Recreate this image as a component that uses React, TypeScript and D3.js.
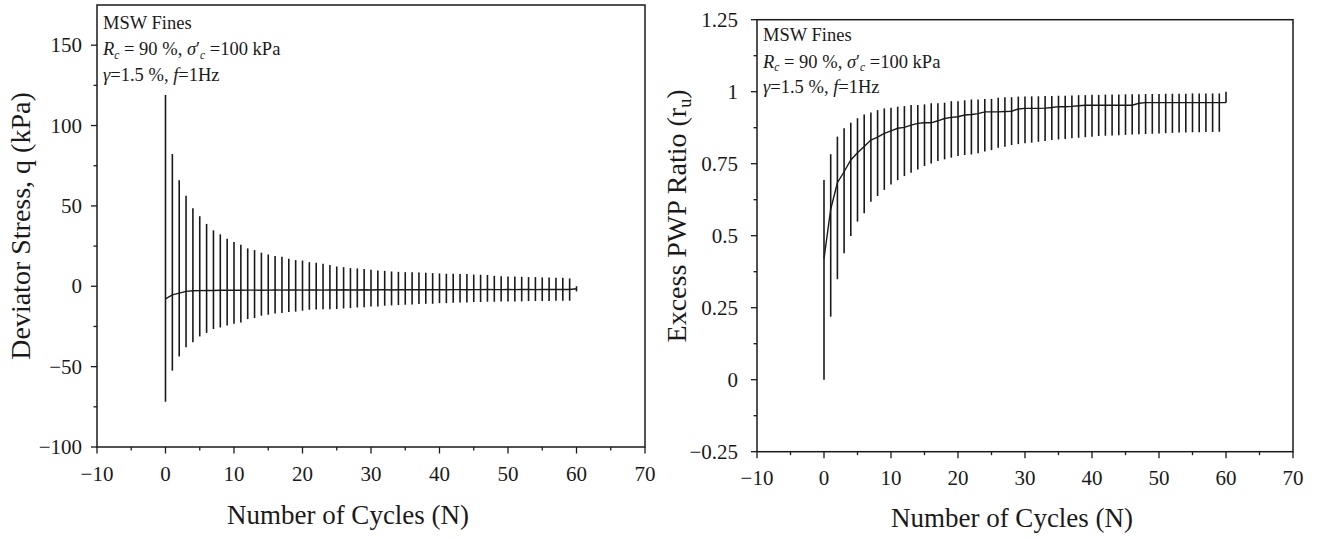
import React from "react";
import * as d3 from "d3";

// ---------- data ----------
const cycles = d3.range(0, 61); // N = 0..60

const qMax = [
  119, 82.3, 66, 56.3, 48.5, 43.6, 38.8, 34.8, 32.3, 29.6,
  27.5, 25.9, 23.6, 22.5, 20.9, 19.8, 18.8, 18.4, 17.1, 16.3,
  16.0, 15.0, 14.6, 14.0, 13.3, 12.3, 11.9, 11.3, 11.1, 10.7,
  10.3, 9.8, 9.6, 9.2, 9.0, 8.8, 8.8, 8.6, 8.4, 8.2,
  8.0, 7.8, 7.8, 7.6, 7.6, 7.3, 7.2, 7.0, 6.5, 6.3,
  6.1, 6.1, 5.9, 5.7, 5.7, 5.5, 5.5, 5.3, 5.3, 4.9,
  0,
];
const qMin = [
  -71.9, -52.5, -43.7, -38, -34.8, -31.2, -29, -26.6, -25.6, -24.4,
  -23.3, -22.5, -20.4, -19.8, -18.3, -17.7, -17, -16.6, -16, -15.8,
  -15.2, -14.6, -14.4, -14.3, -14.3, -14.2, -13.8, -13.6, -13.2, -13.0,
  -12.6, -12.6, -12.1, -11.9, -11.7, -11.5, -11.3, -11.1, -10.9, -10.9,
  -10.5, -10.5, -10.3, -10.1, -10.1, -9.8, -9.8, -9.6, -9.6, -9.4,
  -9.4, -9.4, -9.4, -9.2, -9.2, -9.2, -9.2, -9.0, -9.0, -9.0,
  -3.2,
];
const qMean = [
  -7.9, -5.3, -4.3, -3.2, -2.8, -2.7, -2.6, -2.6, -2.5, -2.5,
  -2.4, -2.5, -2.4, -2.4, -2.5, -2.4, -2.3, -2.4, -2.3, -2.3,
  -2.4, -2.3, -2.3, -2.4, -2.3, -2.3, -2.2, -2.3, -2.3, -2.2,
  -2.3, -2.2, -2.2, -2.3, -2.2, -2.2, -2.2, -2.1, -2.2, -2.2,
  -2.1, -2.2, -2.1, -2.1, -2.2, -2.1, -2.1, -2.0, -2.1, -2.1,
  -2.0, -2.1, -2.0, -2.0, -2.1, -2.0, -2.0, -2.0, -2.0, -2.0,
  -1.5,
];

const ruMax = [
  0.693, 0.783, 0.844, 0.873, 0.892, 0.908, 0.921, 0.928, 0.936, 0.942,
  0.944, 0.948, 0.95, 0.954, 0.954, 0.956, 0.96, 0.96, 0.962, 0.967,
  0.967, 0.97, 0.973, 0.973, 0.975, 0.975, 0.979, 0.981, 0.981, 0.983,
  0.983, 0.984, 0.984, 0.985, 0.985, 0.986, 0.986, 0.987, 0.988, 0.988,
  0.989, 0.989, 0.99, 0.99, 0.99, 0.991, 0.991, 0.991, 0.992, 0.992,
  0.992, 0.993, 0.993, 0.993, 0.993, 0.994, 0.994, 0.994, 0.994, 0.994,
  1.0,
];
const ruMin = [
  0.0, 0.219, 0.349, 0.439, 0.499, 0.549, 0.578, 0.618, 0.638, 0.659,
  0.678, 0.693, 0.707, 0.719, 0.73, 0.742, 0.751, 0.759, 0.765, 0.771,
  0.777, 0.78, 0.782, 0.786, 0.792, 0.797, 0.805, 0.809, 0.815, 0.818,
  0.821, 0.823, 0.826, 0.829, 0.832, 0.834, 0.836, 0.838, 0.84, 0.842,
  0.844, 0.846, 0.847, 0.848, 0.849, 0.85, 0.851, 0.852, 0.853, 0.854,
  0.855, 0.856, 0.857, 0.858, 0.858, 0.859, 0.859, 0.86, 0.86, 0.861,
  0.962,
];
const ruMean = [
  0.42, 0.592, 0.684, 0.722, 0.763, 0.788, 0.81, 0.832, 0.842, 0.855,
  0.864, 0.873, 0.876, 0.884, 0.89, 0.892, 0.892, 0.899, 0.907, 0.911,
  0.913, 0.919, 0.921, 0.924, 0.93, 0.93, 0.93, 0.931, 0.932, 0.94,
  0.942, 0.942, 0.942, 0.943, 0.945, 0.948, 0.948, 0.949, 0.951, 0.953,
  0.953, 0.953, 0.953, 0.953, 0.953, 0.953, 0.953, 0.96, 0.962, 0.962,
  0.962, 0.962, 0.962, 0.962, 0.962, 0.962, 0.962, 0.962, 0.962, 0.962,
  0.962,
];

const xMajorTicks = [-10, 0, 10, 20, 30, 40, 50, 60, 70];
const xMinorTicks = [-5, 5, 15, 25, 35, 45, 55, 65];
const xTickLabels = ["\u221210", "0", "10", "20", "30", "40", "50", "60", "70"];
const qMajorTicks = [-100, -50, 0, 50, 100, 150];
const qMinorTicks = [-75, -25, 25, 75, 125];
const qTickLabels = ["\u2212100", "\u221250", "0", "50", "100", "150"];
const ruMajorTicks = [-0.25, 0, 0.25, 0.5, 0.75, 1, 1.25];
const ruMinorTicks = [-0.125, 0.125, 0.375, 0.625, 0.875, 1.125];
const ruTickLabels = ["\u22120.25", "0", "0.25", "0.5", "0.75", "1", "1.25"];

const FONT = "'Liberation Serif', 'Times New Roman', serif";
const INK = "#1a1a1a";

type PanelProps = {
  x0: number; x1: number; y0: number; y1: number;
  yDomain: [number, number];
  yMajor: number[]; yMinor: number[]; yLabels: string[];
  maxs: number[]; mins: number[]; means: number[];
  yTitle: React.ReactNode; yTitleX: number; yTitleY: number;
  xTitleX: number; xTitleY: number;
  yLabelGap: number; xLabelY: number;
  annX: number; annY: number;
};

function Annotation({ x, y }: { x: number; y: number }) {
  const fs = 18.5;
  const sfs = 11.5;
  return (
    <text x={x} y={y} fontFamily={FONT} fontSize={fs} fill={INK}>
      <tspan x={x} y={y}>MSW Fines</tspan>
      <tspan x={x} y={y + 26.5}>
        <tspan fontStyle="italic">R</tspan>
        <tspan fontStyle="italic" fontSize={sfs} dy={3.5}>c</tspan>
        <tspan dy={-3.5}> = 90 %, </tspan>
        <tspan fontStyle="italic">σ</tspan>
        <tspan>′</tspan>
        <tspan fontStyle="italic" fontSize={sfs} dy={3.5}>c</tspan>
        <tspan dy={-3.5}> =100 kPa</tspan>
      </tspan>
      <tspan x={x} y={y + 52}>
        <tspan fontStyle="italic">γ</tspan>
        <tspan>=1.5 %, </tspan>
        <tspan fontStyle="italic">f</tspan>
        <tspan>=1Hz</tspan>
      </tspan>
    </text>
  );
}

function Panel(p: PanelProps) {
  const xs = d3.scaleLinear().domain([-10, 70]).range([p.x0, p.x1]);
  const ys = d3.scaleLinear().domain(p.yDomain).range([p.y1, p.y0]);
  const meanLine = d3
    .line<number>()
    .x((d) => xs(d))
    .y((d) => ys(p.means[d]))(cycles);
  return (
    <g>
      {/* data */}
      <g stroke={INK} strokeWidth={1.6} fill="none">
        {cycles.map((n) => (
          <line key={n} x1={xs(n)} x2={xs(n)} y1={ys(p.maxs[n])} y2={ys(p.mins[n])} />
        ))}
        <path d={meanLine || ""} strokeWidth={1.4} />
      </g>
      {/* frame */}
      <rect x={p.x0} y={p.y0} width={p.x1 - p.x0} height={p.y1 - p.y0}
        fill="none" stroke={INK} strokeWidth={1.5} />
      {/* ticks */}
      <g stroke={INK} strokeWidth={1.3}>
        {xMajorTicks.map((t) => (
          <line key={"xm" + t} x1={xs(t)} x2={xs(t)} y1={p.y1} y2={p.y1 + 6.5} />
        ))}
        {xMinorTicks.map((t) => (
          <line key={"xn" + t} x1={xs(t)} x2={xs(t)} y1={p.y1} y2={p.y1 + 3.5} />
        ))}
        {p.yMajor.map((t) => (
          <line key={"ym" + t} x1={p.x0 - 6} x2={p.x0} y1={ys(t)} y2={ys(t)} />
        ))}
        {p.yMinor.map((t) => (
          <line key={"yn" + t} x1={p.x0 - 3.5} x2={p.x0} y1={ys(t)} y2={ys(t)} />
        ))}
      </g>
      <g fontFamily={FONT} fontSize={21} fill={INK}>
        {xMajorTicks.map((t, i) => (
          <text key={"xl" + t} x={xs(t)} y={p.xLabelY} textAnchor="middle">
            {xTickLabels[i]}
          </text>
        ))}
        {p.yMajor.map((t, i) => (
          <text key={"yl" + t} x={p.x0 - p.yLabelGap} y={ys(t)} dy="0.34em" textAnchor="end">
            {p.yLabels[i]}
          </text>
        ))}
      </g>
      <text x={p.xTitleX} y={p.xTitleY} textAnchor="middle" fontFamily={FONT}
        fontSize={27} fill={INK}>
        Number of Cycles (N)
      </text>
      <text transform={`translate(${p.yTitleX},${p.yTitleY}) rotate(-90)`}
        textAnchor="middle" fontFamily={FONT} fontSize={28} fill={INK}>
        {p.yTitle}
      </text>
      <Annotation x={p.annX} y={p.annY} />
    </g>
  );
}

export default function App() {
  return (
    <svg width={1317} height={538} viewBox="0 0 1317 538"
      style={{ position: "absolute", left: 0, top: 0, background: "#fff" }}>
      <rect width={1317} height={538} fill="#fff" />
      <Panel
        x0={97} x1={645} y0={5} y1={447}
        yDomain={[-100, 175]}
        yMajor={qMajorTicks} yMinor={qMinorTicks} yLabels={qTickLabels}
        maxs={qMax} mins={qMin} means={qMean}
        yTitle={"Deviator Stress, q (kPa)"} yTitleX={30} yTitleY={226}
        xTitleX={348} xTitleY={524}
        yLabelGap={15} xLabelY={481}
        annX={103} annY={28.5}
      />
      <Panel
        x0={757} x1={1293} y0={19.7} y1={451.7}
        yDomain={[-0.25, 1.25]}
        yMajor={ruMajorTicks} yMinor={ruMinorTicks} yLabels={ruTickLabels}
        maxs={ruMax} mins={ruMin} means={ruMean}
        yTitle={
          <>
            Excess PWP Ratio (r<tspan fontSize={18} dy={5}>u</tspan>
            <tspan dy={-5}>)</tspan>
          </>
        }
        yTitleX={686} yTitleY={216}
        xTitleX={1012} xTitleY={527}
        yLabelGap={19} xLabelY={485}
        annX={763} annY={41}
      />
    </svg>
  );
}
